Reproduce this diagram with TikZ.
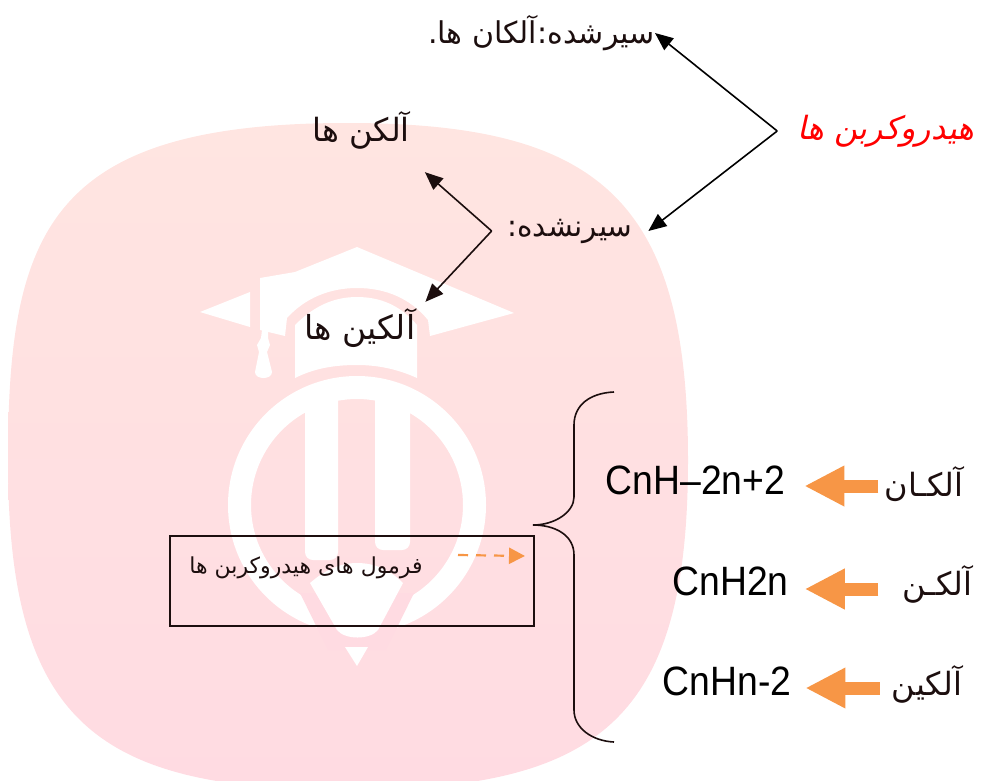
\documentclass[tikz,border=0pt]{standalone}
\usepackage{fontspec}
\usetikzlibrary{arrows.meta,calc}
\TeXXeTstate=1
\newfontfamily\arfont[Script=Arabic]{DejaVu Sans}
\newfontfamily\arslant[Script=Arabic,FakeSlant=0.22]{DejaVu Sans}
\newfontfamily\latnarrow[FakeStretch=0.91]{Liberation Sans}
\newcommand{\artext}[1]{\arfont\beginR #1\endR}
\definecolor{blobtop}{HTML}{FFE5E1}
\definecolor{blobbot}{HTML}{FFDBE2}
\definecolor{ink}{HTML}{1C0E0E}
\definecolor{orangearrow}{HTML}{F79646}
\tikzset{
  arlabel/.style={inner ysep=0pt,font=\fontsize{32}{36}\selectfont,text=ink},
  formula/.style={inner ysep=0pt,font=\fontsize{41}{44}\selectfont\latnarrow,text=black},
  thinarrow/.style={draw=ink,line width=1.6pt,-{Triangle[length=18pt,width=15pt]}},
  blockarrow/.style={draw=orangearrow,line width=13pt,-{Triangle[length=40pt,width=38pt]}},
  logo/.style={fill=white,draw=none},
}
\begin{document}
\begin{tikzpicture}[x=1pt,y=-1pt]
\useasboundingbox (0,0) rectangle (982,780);
% background blob
\path[top color=blobtop,bottom color=blobbot]
  (347,123) .. controls (600,123) and (688,200) .. (688,460)
  .. controls (688,720) and (600,790) .. (347,790)
  .. controls (94,790) and (8,720) .. (8,460)
  .. controls (8,230) and (50,123) .. (347,123) -- cycle;
% logo: cap
\fill[logo] (200,312) -- (250,292) -- (250,327) -- cycle;
\fill[logo] (260,278) -- (295,272) -- (357,247) -- (514,313) -- (430,336) -- (428,320)
  .. controls (410,298) and (385,288) .. (357,288)
  .. controls (330,288) and (305,298) .. (287,318)
  -- (285,336) -- (260,330) -- cycle;
\fill[logo] (295,378) -- (295,325) .. controls (315,305) and (335,297) .. (357,297)
  .. controls (380,297) and (400,305) .. (417,325) -- (417,378)
  .. controls (395,368) and (375,365) .. (357,365)
  .. controls (335,365) and (315,368) .. (295,378) -- cycle;
\fill[logo] (262,330) -- (268,330) -- (268,338) -- (270,345) -- (267,352) -- (272,372)
  .. controls (272,380) and (255,380) .. (255,372) -- (259,352) -- (257,345) -- (261,338) -- cycle;
% logo: ring
\fill[logo,even odd rule] (357,505) circle[radius=129] (357,505) circle[radius=106];
\fill[blobbot] (300,593) -- (328,650) -- (386,650) -- (414,593) -- cycle;
\fill[logo,rounded corners=8pt] (305,392) rectangle (338,560);
\fill[logo,rounded corners=8pt] (375,392) rectangle (410,550);
\fill[logo] (310,583) .. controls (325,570) and (340,563) .. (357,563)
  .. controls (375,563) and (390,570) .. (403,583)
  -- (378,630) .. controls (370,640) and (345,640) .. (337,630) -- cycle;
\fill[logo] (345,647) -- (368,647) -- (357,666) -- cycle;
% text nodes
\node[arlabel,anchor=east,inner xsep=0pt,font=\fontsize{30}{34}\selectfont] (sat) at (655,33) {\artext{سیرشده:آلکان ها.}};
\node[arlabel,inner xsep=15pt,minimum height=84pt] (alkene) at (361,130) {\artext{آلکن ها}};
\node[arlabel,inner xsep=15.5pt,font=\fontsize{29.5}{34}\selectfont] (unsat) at (570,231) {\artext{سیرنشده:}};
\node[arlabel,inner xsep=10pt,minimum height=52pt,font=\fontsize{33}{36}\selectfont] (alkyne) at (360,328) {\artext{آلکین ها}};
\node[inner ysep=0pt,inner xsep=20pt,text=red,font=\fontsize{32}{36}\selectfont] (hydro) at (886,131) {\arslant\beginR هیدروکربن ها\endR};
% arrows top
\draw[thinarrow,draw=black] (hydro.west) -- (sat.east);
\draw[thinarrow,draw=black] (hydro.west) -- (unsat.east);
\draw[thinarrow] (unsat.west) -- (alkene.south east);
\draw[thinarrow] (unsat.west) -- (alkyne.north east);
% box
\node[draw=ink,line width=1.5pt,minimum width=364pt,minimum height=90pt,inner sep=0pt] (box) at (352,581) {};
\node[inner sep=0pt,font=\fontsize{22}{26}\selectfont,text=ink] (boxtext) at (306,568) {\artext{فرمول های هیدروکربن ها}};
\coordinate (dashstart) at (458,555);
\coordinate (dashend) at (525,556);
\draw[draw=orangearrow,line width=2.2pt,dash pattern=on 10pt off 8pt,-{Triangle[length=16pt,width=16pt]}] (dashstart) -- (dashend);
% brace
\coordinate (bracetip) at (533,525);
\draw[draw=ink,line width=1.6pt] (614,392) .. controls (590,393) and (574,405) .. (574,425)
  -- (574,497) .. controls (574,512) and (555,525) .. (bracetip)
  .. controls (555,525) and (574,535) .. (574,555)
  -- (574,710) .. controls (574,728) and (592,741) .. (614,742);
% formulas and labels
\node[formula,inner xsep=19pt] (f1) at (695.5,480) {CnH–2n+2};
\node[formula,inner xsep=16pt] (f2) at (730.5,581) {CnH2n};
\node[formula,inner xsep=14pt] (f3) at (727,681) {CnHn-2};
\node[arlabel,inner xsep=6pt] (l1) at (924,484) {\artext{آلکـان}};
\node[arlabel,inner xsep=24pt] (l2) at (937.5,584) {\artext{آلکـن}};
\node[arlabel,inner xsep=12pt] (l3) at (927,684) {\artext{آلکین}};
\draw[blockarrow] ([yshift=-2pt]l1.west) -- ([yshift=-6pt]f1.east);
\draw[blockarrow] ([yshift=-5pt]l2.west) -- ([yshift=-8pt]f2.east);
\draw[blockarrow] ([yshift=-4pt]l3.west) -- ([yshift=-7pt]f3.east);
\end{tikzpicture}
\end{document}
